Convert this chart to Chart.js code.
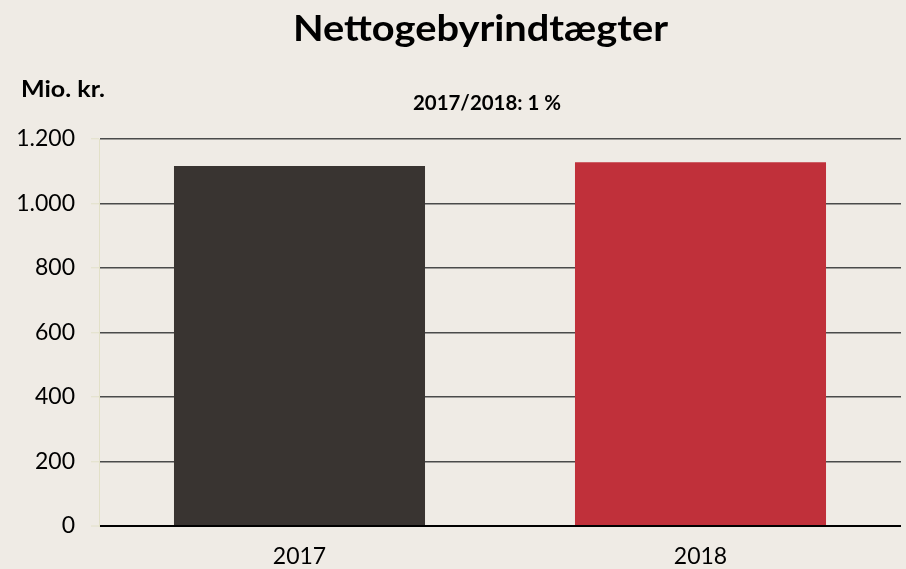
<!DOCTYPE html>
<html><head><meta charset="utf-8">
<script src="https://cdn.jsdelivr.net/npm/chart.js@4/dist/chart.umd.min.js"></script>
<style>html,body{margin:0;padding:0;background:#efebe5;}#wrap{width:906px;height:569px;}</style>
</head><body><div id="wrap"><canvas id="c" width="906" height="569"></canvas></div>
<script>
const categories = ['2017', '2018'];
const values = [1116, 1128];
const barColors = ['#393431', '#c0303a'];
const yTicks = [0, 200, 400, 600, 800, 1000, 1200];
const titleText = 'Nettogebyrindtægter';
const unitText = 'Mio. kr.';
const noteText = '2017/2018: 1 %';
const FONT = '"Lato", "DejaVu Sans", sans-serif';

function fitText(c, text, left, baseline, font, targetWidth) {
  c.save();
  c.font = font;
  c.textAlign = 'left';
  c.textBaseline = 'alphabetic';
  const w = c.measureText(text).width;
  c.translate(left, baseline);
  c.scale(targetWidth / w, 1);
  c.fillText(text, 0, 0);
  c.restore();
}

const textPlugin = {
  id: 'texts',
  afterDraw(chart) {
    const c = chart.ctx;
    c.save();
    c.fillStyle = '#000';
    fitText(c, titleText, 293, 41, 'bold 37px ' + FONT, 375);
    fitText(c, unitText, 21, 97, 'bold 23px ' + FONT, 84);
    fitText(c, noteText, 413, 110, 'bold 21px ' + FONT, 148);
    c.restore();
  }
};
const bgPlugin = {
  id: 'bg',
  beforeDraw(chart) {
    const c = chart.ctx;
    c.save(); c.fillStyle = '#efebe5'; c.fillRect(0, 0, chart.width, chart.height); c.restore();
  }
};

new Chart(document.getElementById('c'), {
  type: 'bar',
  data: { labels: categories, datasets: [{ data: values, backgroundColor: barColors, borderWidth: 0, categoryPercentage: 1, barPercentage: 0.626 }] },
  options: {
    responsive: false, animation: false,
    layout: { padding: { top: 139, right: 5, left: 0, bottom: 0 } },
    plugins: { legend: { display: false }, title: { display: false }, tooltip: { enabled: false } },
    scales: {
      x: {
        grid: { display: false }, border: { display: false },
        ticks: { color: '#000', font: { family: FONT, size: 23 }, padding: 9 },
        afterFit(s) { s.height = 43; }
      },
      y: {
        min: 0, max: 1200,
        afterBuildTicks(s) { s.ticks = yTicks.map(v => ({ value: v })); },
        afterFit(s) { s.width = 99; },
        border: { display: true, color: '#e2e0c8', width: 1 },
        grid: {
          color: ctx => ctx.tick && ctx.tick.value === 0 ? '#000' : '#4a4a4a',
          lineWidth: ctx => ctx.tick && ctx.tick.value === 0 ? 2 : 1.5,
          drawTicks: true, tickLength: 8, tickColor: '#e2e0c8', tickWidth: 1
        },
        ticks: {
          color: '#000', font: { family: FONT, size: 23 }, padding: 16,
          callback: v => v.toLocaleString('de-DE')
        }
      }
    }
  },
  plugins: [bgPlugin, textPlugin]
});
</script></body></html>
